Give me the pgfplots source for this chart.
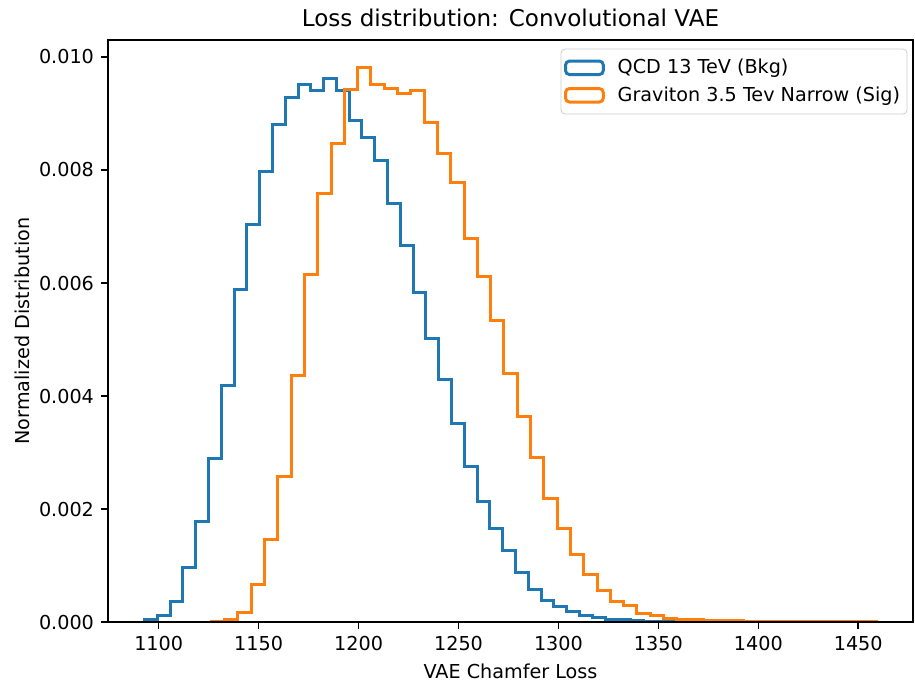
\documentclass[border=0pt]{standalone}
\usepackage{pgfplots}
\pgfplotsset{compat=1.18}
\usepackage{fontspec}
\setmainfont{DejaVu Sans}
\definecolor{mplblue}{HTML}{1F77B4}
\definecolor{mplorange}{HTML}{FF7F0E}
\newcommand{\mplfont}{\fontsize{9.65}{11.6}\selectfont}
\begin{document}
\begin{tikzpicture}
\begin{axis}[
  name=ax,
  scale only axis,
  width=405pt, height=292.9pt,
  xmin=1074.6, xmax=1477.4, ymin=0, ymax=0.0103,
  xtick={1100,1150,1200,1250,1300,1350,1400,1450},
  ytick={0,0.002,0.004,0.006,0.008,0.010},
  scaled y ticks=false,
  /pgf/number format/assume math mode=true,
  /pgf/number format/1000 sep={},
  yticklabel style={/pgf/number format/.cd, fixed, fixed zerofill, precision=3},
  tick align=outside, tick pos=left, major tick length=3.5pt,
  every tick/.style={black, line width=0.8pt},
  axis line style={line width=0.8pt},
  axis on top,
  ticklabel style={font=\mplfont},
  title={Loss distribution: Convolutional VAE},
  title style={font=\fontsize{11.6}{14}\selectfont, yshift=-3pt},
  xlabel={VAE Chamfer Loss},
  ylabel={Normalized Distribution},
  label style={font=\mplfont},
  ylabel style={yshift=-2pt},
  const plot,
  legend image code/.code={\draw[#1,line width=1.5pt] (0pt,-3.4pt) rectangle (19pt,3.4pt);
    \path (23.5pt,0pt);},
  legend cell align=left,
  legend style={at={(0.993,0.985)}, anchor=north east, draw=black!20, rounded corners=2pt,
    font=\mplfont, inner xsep=1.5pt, inner ysep=3pt, row sep=1pt},
]
\addplot[mplblue, line width=1.5pt, no markers] coordinates {
(1092.9,0) (1092.9,0.00004) (1099.3,0.00011) (1105.7,0.00037) (1112.1,0.00096) (1118.5,0.00179) (1124.9,0.00290) (1131.3,0.00418) (1137.7,0.00588) (1144.1,0.00703) (1150.5,0.00797) (1156.9,0.00880) (1163.3,0.00928) (1169.7,0.00952) (1176.1,0.00941) (1182.5,0.00961) (1188.9,0.00941) (1195.3,0.00887) (1201.7,0.00857) (1208.1,0.00816) (1214.5,0.00740) (1220.9,0.00667) (1227.3,0.00583) (1233.7,0.00502) (1240.1,0.00429) (1246.5,0.00352) (1252.9,0.00275) (1259.3,0.00213) (1265.7,0.00165) (1272.1,0.00127) (1278.5,0.00088) (1284.9,0.00058) (1291.3,0.00039) (1297.7,0.00028) (1304.1,0.00019) (1310.5,0.00012) (1316.9,0.00009) (1323.3,0.00005) (1329.7,0.00004) (1336.1,0.00003) (1342.5,0.00002) (1348.9,0.00002) (1355.3,0.00001) (1361.7,0.00001) (1368.1,0.00001) (1374.5,0.000005) (1380.9,0.000005) (1387.3,0.000003) (1393.7,0.000002) (1400.1,0.000002) (1406.5,0.000002) (1412.9,0.000002) (1412.9,0)
};
\addlegendentry{QCD 13 TeV (Bkg)}
\addplot[mplorange, line width=1.5pt, no markers] coordinates {
(1126.35,0) (1126.35,0.00002) (1133.00,0.00005) (1139.66,0.00017) (1146.31,0.00067) (1152.97,0.00147) (1159.62,0.00258) (1166.27,0.00436) (1172.93,0.00615) (1179.58,0.00759) (1186.24,0.00846) (1192.89,0.00943) (1199.54,0.00981) (1206.20,0.00952) (1212.85,0.00944) (1219.51,0.00935) (1226.16,0.00941) (1232.81,0.00884) (1239.47,0.00829) (1246.12,0.00778) (1252.78,0.00678) (1259.43,0.00612) (1266.08,0.00533) (1272.74,0.00440) (1279.39,0.00364) (1286.05,0.00292) (1292.70,0.00219) (1299.35,0.00165) (1306.01,0.00119) (1312.66,0.00084) (1319.32,0.00056) (1325.97,0.00036) (1332.62,0.00029) (1339.28,0.00015) (1345.93,0.00011) (1352.59,0.00007) (1359.24,0.00005) (1365.89,0.00004) (1372.55,0.00003) (1379.20,0.00003) (1385.86,0.00003) (1392.51,0.00002) (1399.16,0.00002) (1405.82,0.00002) (1412.47,0.00002) (1419.13,0.00002) (1425.78,0.00002) (1432.43,0.00002) (1439.09,0.00002) (1445.74,0.00002) (1452.40,0.00002) (1459.05,0.00002) (1459.05,0)
};
\addlegendentry{Graviton 3.5 Tev Narrow (Sig)}
\end{axis}
\pgfresetboundingbox
\path ([xshift=-54.3pt,yshift=-29.7pt]ax.south west) rectangle ([xshift=1pt,yshift=20.1pt]ax.north east);
\end{tikzpicture}
\end{document}
